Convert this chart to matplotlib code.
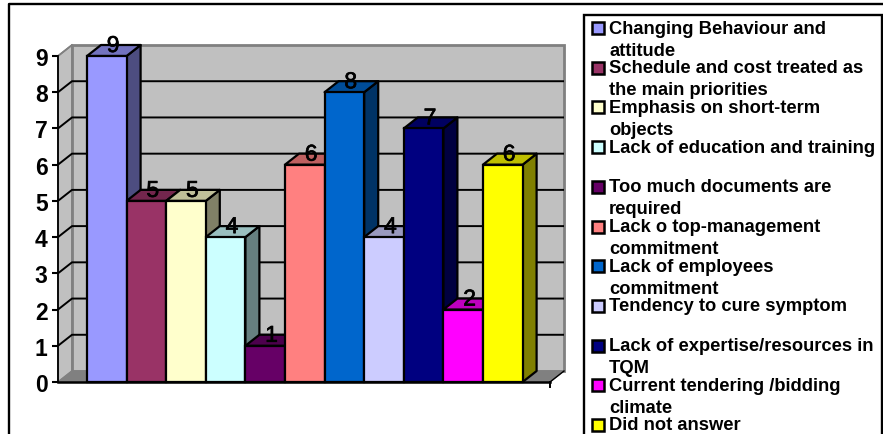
import matplotlib
matplotlib.use('Agg')
import matplotlib.pyplot as plt
import matplotlib.patheffects as pe
from matplotlib.patches import Polygon, Rectangle

W, H = 883, 435

# values
labels = ['Changing Behaviour and\nattitude',
          'Schedule and cost treated as\nthe main priorities',
          'Emphasis on short-term\nobjects',
          'Lack of education and training',
          'Too much documents are\nrequired',
          'Lack o top-management\ncommitment',
          'Lack of employees\ncommitment',
          'Tendency to cure symptom',
          'Lack of expertise/resources in\nTQM',
          'Current tendering /bidding\nclimate',
          'Did not answer']
values = [9, 5, 5, 4, 1, 6, 8, 4, 7, 2, 6]
front_colors = ['#9999FF', '#993366', '#FFFFCC', '#CCFFFF', '#660066', '#FF8080',
                '#0066CC', '#CCCCFF', '#000080', '#FF00FF', '#FFFF00']
top_colors = ['#7373BF', '#73264D', '#BFBF99', '#99BFBF', '#4D004D', '#BF6060',
              '#004D99', '#9999BF', '#000060', '#BF00BF', '#BFBF00']
side_colors = ['#4D4D80', '#4D1A33', '#808066', '#668080', '#330033', '#804040',
               '#003366', '#666680', '#000040', '#800080', '#808000']
y_ticks = list(range(10))

plt.rcParams['font.family'] = ['Liberation Sans', 'DejaVu Sans']

fig = plt.figure(figsize=(W / 100, H / 100), dpi=100, facecolor='white')


def fx(px):
    return px / W


def fy(py):
    return 1 - py / H


# outer frame and legend box, both run off the picture
fig.add_artist(plt.Line2D([fx(9), fx(9), fx(883)], [fy(437), fy(5), fy(5)], color='black', lw=1.7))
fig.add_artist(Rectangle((fx(584), fy(440)), fx(298), fy(15.5) - fy(440), fill=False,
                         ec='black', lw=1.7, transform=fig.transFigure))

# axis box: y axis at 58px, floor at 383px, value 9 at 57px
ax = fig.add_axes([fx(58), fy(383), fx(492), fy(57) - fy(383)])
bar_w = 39.6
ax.set_xlim(-0.5 - 29 / bar_w, -0.5 - 29 / bar_w + 492 / bar_w)
ax.set_ylim(0, 9)
ax.patch.set_visible(False)
for s in ['top', 'right']:
    ax.spines[s].set_visible(False)
ax.spines['left'].set_linewidth(1.3)
ax.spines['bottom'].set_linewidth(1.8)
ax.set_xticks([])
ax.set_yticks(y_ticks)
ax.tick_params(axis='y', length=4.5, width=1.5, pad=3, labelsize=16.5)
for t in ax.get_yticklabels():
    t.set_fontweight('bold')

dx = 14 / bar_w
dy = 11 / (326 / 9)
xl, xr = ax.get_xlim()
ytop = ax.get_ylim()[1]

# side wall, back wall and floor
ax.add_patch(Polygon([(xl, 0), (xl + dx, dy), (xl + dx, ytop + dy), (xl, ytop)], fc='#C0C0C0',
                     ec='#808080', lw=1.2, clip_on=False, zorder=1))
ax.add_patch(Rectangle((xl + dx, dy), xr - xl, ytop, fc='#C0C0C0', ec='#808080', lw=2,
                       clip_on=False, zorder=1))
ax.add_patch(Polygon([(xl, 0), (xr, 0), (xr + dx, dy), (xl + dx, dy)], fc='#808080', ec='#808080',
                     lw=0.8, clip_on=False, zorder=1.5))
for v in y_ticks[1:-1]:
    ax.plot([xl, xl + dx, xr + dx], [v, v + dy, v + dy], color='black', lw=1.4, clip_on=False,
            solid_capstyle='butt', zorder=1.2)
ax.plot([xl, xl + dx], [9, 9 + dy], color='#808080', lw=1.2, clip_on=False, zorder=1.2)
ax.plot([xr, xr], [0, -0.14], color='black', lw=1.4, clip_on=False)
ax.plot([xr, xr + dx], [0, dy], color='black', lw=1.0, clip_on=False, zorder=1.6)

# bars
for i, v in enumerate(values):
    left, right = i - 0.5, i + 0.5
    z = 3 + i * 0.01
    ax.add_patch(Polygon([(right, 0), (right + dx, dy), (right + dx, v + dy), (right, v)],
                         fc=side_colors[i], ec='black', lw=1.6, joinstyle='round', clip_on=False, zorder=z))
    ax.add_patch(Polygon([(left, v), (right, v), (right + dx, v + dy), (left + dx, v + dy)],
                         fc=top_colors[i], ec='black', lw=1.6, joinstyle='round', clip_on=False, zorder=z))
bars = ax.bar(range(len(values)), values, width=1.0, color=front_colors, edgecolor='black',
              linewidth=1.6, zorder=4, clip_on=False)
# the labels look a bit heavier than regular in the original
for i, v in enumerate(values):
    txt = ax.text(i + 0.16, v + 0.29, str(v), ha='center', va='center', fontsize=16.5, color='black',
                  zorder=6, clip_on=False)
    txt.set_path_effects([pe.withStroke(linewidth=0.5, foreground='black')])

# legend, drawn by hand so wrapped rows keep the original spacing
for i, label in enumerate(labels):
    row_y = 29 + 39.7 * i
    fig.add_artist(Rectangle((fx(592), fy(row_y + 6)), fx(12), fy(row_y - 6) - fy(row_y + 6),
                             fc=front_colors[i], ec='black', lw=1.8, transform=fig.transFigure))
    for k, line in enumerate(label.split('\n')):
        fig.text(fx(609), fy(row_y + 22 * k), line, ha='left', va='center', fontsize=13.2,
                 fontweight='bold', color='black')

fig.savefig('out.png', dpi=100)
